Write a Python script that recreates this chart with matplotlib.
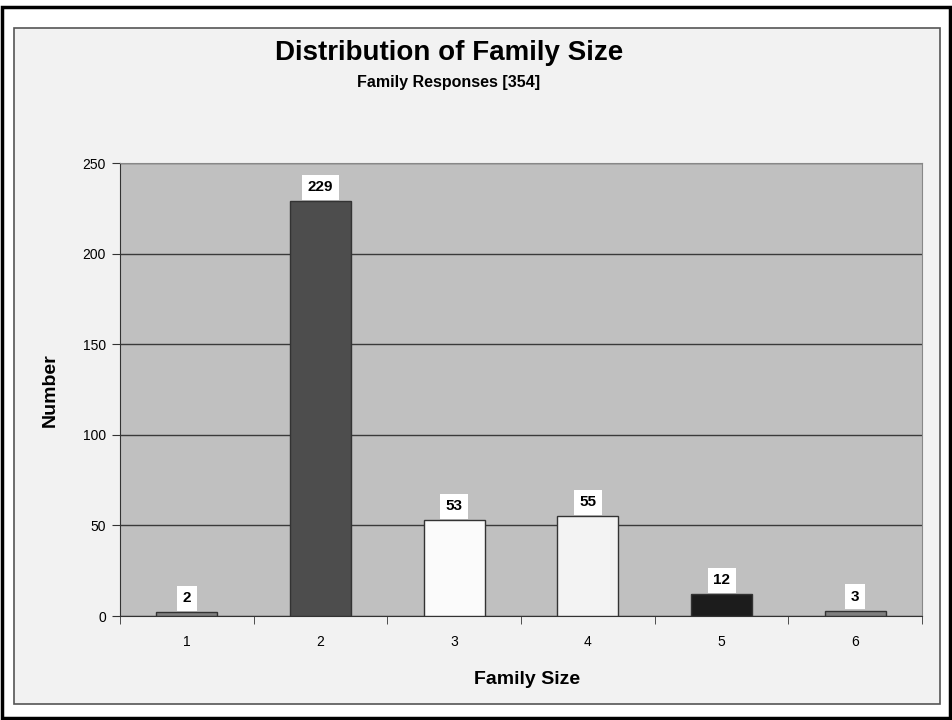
import matplotlib.pyplot as plt
from matplotlib.patches import Rectangle
import numpy as np

plt.rcParams['font.family'] = ['Liberation Sans', 'DejaVu Sans']

sizes = ["1", "2", "3", "4", "5", "6"]
counts = [2, 229, 53, 55, 12, 3]
bar_colors = ["#808080", "#4d4d4d", "#fbfbfb", "#f3f3f3", "#1c1c1c", "#808080"]

W, H = 952, 720
fig = plt.figure(figsize=(W / 100, H / 100), dpi=100)
fig.patch.set_facecolor("white")

# outer black frame and inner light panel
fig.patches.append(Rectangle((2 / W, 2 / H), (W - 4) / W, (H - 9) / H, transform=fig.transFigure,
                             fill=False, edgecolor="black", linewidth=2.5, zorder=-2))
fig.patches.append(Rectangle((14 / W, (H - 704) / H), 926 / W, 676 / H, transform=fig.transFigure,
                             facecolor="#f2f2f2", edgecolor="#555555", linewidth=1.2, zorder=-1))

ax = fig.add_axes([120 / W, (H - 616) / H, 802 / W, 453 / H])
ax.set_zorder(2)
ax.set_facecolor("#c0c0c0")

x = np.arange(len(sizes))
ax.bar(x, counts, width=0.455, color=bar_colors, edgecolor="#333333", linewidth=1, zorder=3)

for xi, v in zip(x, counts):
    ax.annotate(str(v), (xi, v), xytext=(0, 5), textcoords="offset points", ha="center", va="bottom",
                fontsize=11, fontweight="bold",
                bbox=dict(facecolor="white", edgecolor="none", pad=4), zorder=4)

ax.set_xlim(-0.5, len(sizes) - 0.5)
ax.set_ylim(0, 250)
ax.set_yticks(range(0, 251, 50))
ax.set_xticks(x)
ax.set_xticklabels(sizes, fontsize=10)
ax.tick_params(axis="x", length=0, pad=14)
ax.set_xticks(np.arange(-0.5, len(sizes)), minor=True)
ax.tick_params(axis="x", which="minor", length=6, direction="out", color="#333333")
ax.tick_params(axis="y", labelsize=10, length=6, direction="out", color="#333333", pad=4)
ax.yaxis.grid(True, color="#3a3a3a", linewidth=1, zorder=1)
ax.set_axisbelow(True)
for s in ["left", "bottom"]:
    ax.spines[s].set_color("#333333")
for s in ["top", "right"]:
    ax.spines[s].set_color("#888888")

fig.text(449 / W, 1 - 53 / H, "Distribution of Family Size", ha="center", va="center",
         fontsize=20, fontweight="bold")
fig.text(449 / W, 1 - 83 / H, "Family Responses [354]", ha="center", va="center",
         fontsize=11.5, fontweight="bold")
fig.text(50 / W, 1 - 390 / H, "Number", ha="center", va="center", rotation=90,
         fontsize=14, fontweight="bold")
fig.text(527 / W, 1 - 680 / H, "Family Size", ha="center", va="center",
         fontsize=14, fontweight="bold")

fig.savefig("out.png", dpi=100)
